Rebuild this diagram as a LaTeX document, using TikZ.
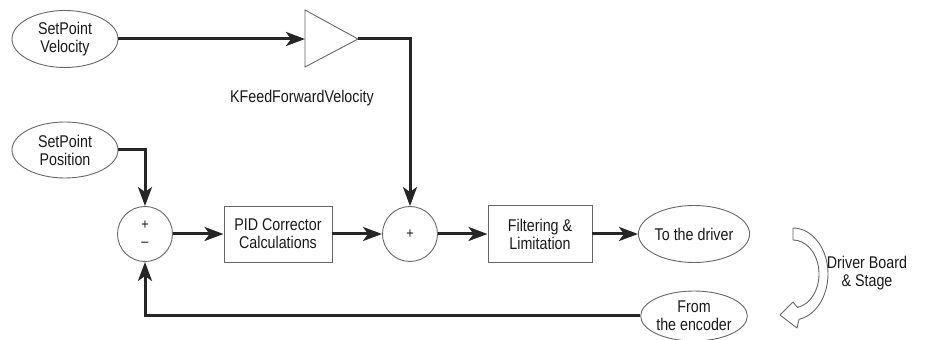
\documentclass[tikz,border=0pt]{standalone}
\usepackage{fontspec}
\setmainfont{Liberation Sans}[FakeStretch=0.84]
\usetikzlibrary{shapes.geometric,arrows.meta,calc}
\begin{document}
\begin{tikzpicture}[x=1pt,y=1pt,
  font=\fontsize{17}{18}\selectfont,
  shp/.style={draw=black!60, line width=0.9pt},
  ell/.style={shp, ellipse, inner sep=0pt, minimum width=106pt, minimum height=57pt, align=center, text=black!90},
  boxn/.style={shp, rectangle, inner sep=0pt, minimum height=56pt, align=center, text=black!90},
  sumn/.style={shp, circle, minimum size=55pt, inner sep=0pt, align=center, text=black!90, font=\fontsize{15}{17}\selectfont},
  sig/.style={line width=3pt, draw=black!85, -{Stealth[length=19pt,width=14pt,inset=5pt]}},
  lbl/.style={align=center, text=black!90}
]
\useasboundingbox (0,0) rectangle (943,340);
% nodes
\node[ell] (spv) at (65,301) {SetPoint\\Velocity};
\node[ell, minimum height=56pt] (spp) at (65,190) {SetPoint\\Position};
\node[sumn] (sum1) at (145,106) {+\\–};
\node[boxn, minimum width=108pt] (pid) at (278,106) {PID Corrector\\Calculations};
\node[sumn] (sum2) at (410,106) {+};
\node[boxn, minimum width=104pt, minimum height=57pt] (filt) at (540,106) {Filtering \&\\Limitation};
\node[ell] (drv) at (694,106) {To the driver};
\node[ell, minimum height=50pt] (enc) at (694,24) {From\\the encoder};
\node[lbl] (kff) at (302,242) {KFeedForwardVelocity};
\node[lbl] (dbs) at (867,67) {Driver Board\\\& Stage};
% gain triangle
\coordinate (kin) at (305,301);
\coordinate (kout) at (358,301);
\draw[shp, fill=white] (305,330) -- (kout) -- (305,273) -- cycle;
% connectors
\draw[sig] (spv.east) -- (kin);
\draw[sig] (kout) -| (sum2.north);
\draw[sig] (spp.east) -| (sum1.north);
\draw[sig] (sum1) -- (pid);
\draw[sig] (pid) -- (sum2);
\draw[sig] (sum2) -- (filt);
\draw[sig] (filt) -- (drv);
\draw[sig] (enc.west) -| (sum1.south);
% hollow curved arrow
\coordinate (C) at (793,66);
\draw[shp, fill=white, line join=round]
  ($(C)+(0,46)$) arc[start angle=90, end angle=-80, x radius=35, y radius=46]
  -- ($(C)+(4,-54)$)
  -- ($(C)+(-13,-41)$)
  -- ($(C)+(0,-28)$)
  -- ($(C)+({26*cos(-80)},{34*sin(-80)})$) arc[start angle=-80, end angle=90, x radius=26, y radius=34]
  -- cycle;
\end{tikzpicture}
\end{document}
